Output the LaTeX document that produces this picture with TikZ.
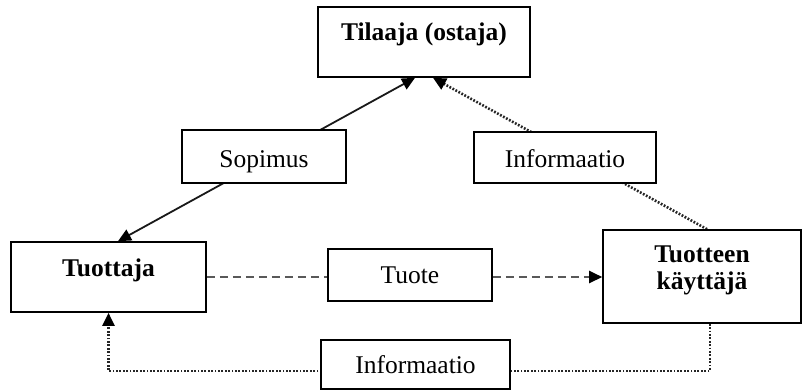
\documentclass[tikz,border=0pt]{standalone}
\usepackage{fontspec}
\setmainfont{Liberation Serif}
\usetikzlibrary{arrows.meta,backgrounds}
\begin{document}
\begin{tikzpicture}[x=1pt,y=-1pt,
  box/.style={draw=black, line width=1.6pt, fill=white, rectangle, inner sep=0pt,
    font=\fontsize{25.5pt}{27pt}\selectfont},
  bbox/.style={box, font=\fontsize{25.5pt}{27pt}\selectfont\bfseries},
  solidline/.style={line width=1.8pt, black!90},
  dotline/.style={line width=2.6pt, black!85, dash pattern=on 1.8pt off 1.6pt},
  dashline/.style={line width=2.4pt, black!65, dash pattern=on 8pt off 5pt}]
\useasboundingbox (0,0) rectangle (802,391);

\node[bbox, minimum width=212pt, minimum height=70pt, text height=17pt, text depth=21pt]
  (tilaaja) at (424,42) {Tilaaja (ostaja)};
\node[box, minimum width=164pt, minimum height=53pt, text height=21pt, text depth=0pt]
  (sopimus) at (264,156.5) {Sopimus};
\node[box, minimum width=182pt, minimum height=51pt, text height=19pt, text depth=0pt]
  (info1) at (565,157.5) {Informaatio};
\node[bbox, minimum width=195pt, minimum height=70pt, text height=17pt, text depth=19pt]
  (tuottaja) at (108.5,277) {Tuottaja};
\node[box, minimum width=164pt, minimum height=52pt, text height=16pt, text depth=0pt]
  (tuote) at (410,275) {Tuote};
\node[bbox, align=center, minimum width=198pt, minimum height=93pt, text height=40pt, text depth=15pt]
  (kayttaja) at (702,276.5) {Tuotteen\\käyttäjä};
\node[box, minimum width=189pt, minimum height=49pt, text height=17pt, text depth=0pt]
  (info2) at (415.5,364.5) {Informaatio};

\begin{scope}[on background layer]
\draw[solidline, {Triangle[length=13pt,width=12pt,color=black]}-{Triangle[length=13pt,width=12pt,color=black]}]
  ([xshift=9.5pt]tuottaja.north) -- ([xshift=-9pt]tilaaja.south);
\draw[dotline, -{Triangle[length=13pt,width=12pt,color=black]}]
  ([xshift=5pt]kayttaja.north) -- ([xshift=9pt]tilaaja.south);
\draw[dashline, -{Triangle[length=13pt,width=12pt,color=black]}]
  (tuottaja.east) -- (tuottaja.east -| kayttaja.west);
\draw[dotline, -{Triangle[length=13pt,width=12pt,color=black]}]
  ([xshift=8pt]kayttaja.south) -- ++(0,47) -| (tuottaja.south);
\end{scope}
\end{tikzpicture}
\end{document}
